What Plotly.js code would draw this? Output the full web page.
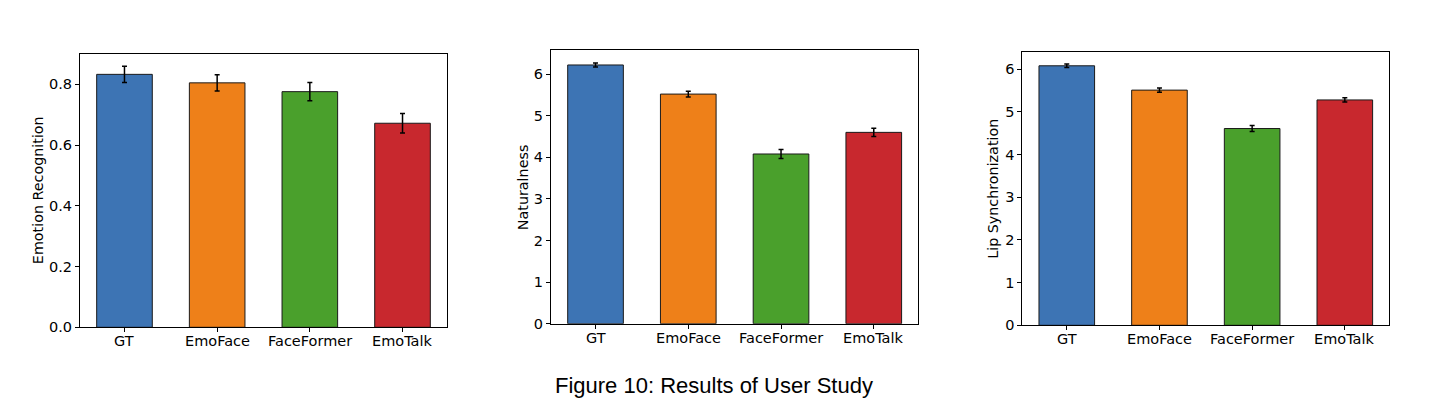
<!DOCTYPE html>
<html>
<head>
<meta charset="utf-8">
<script src="https://cdn.plot.ly/plotly-3.0.1.min.js"></script>
<style>html,body{margin:0;padding:0;background:#fff;}#chart{width:1432px;height:399px;}</style>
</head>
<body>
<div id="chart"></div>
<script>
const categories = ["GT", "EmoFace", "FaceFormer", "EmoTalk"];
const barColors = ["#3d74b4", "#ee8019", "#4aa02c", "#c8282e"];

const emotionRecognition = [0.833, 0.805, 0.776, 0.672];
const emotionRecognitionErr = [0.027, 0.027, 0.030, 0.032];

const naturalness = [6.22, 5.52, 4.08, 4.60];
const naturalnessErr = [0.05, 0.07, 0.11, 0.10];

const lipSync = [6.08, 5.51, 4.61, 5.28];
const lipSyncErr = [0.04, 0.05, 0.07, 0.05];

const panelTitles = ["Emotion Recognition", "Naturalness", "Lip Synchronization"];
const yRanges = [[0, 0.9], [0, 6.58], [0, 6.41]];
const yTicks = [[0, 0.2, 0.4, 0.6, 0.8], [0, 1, 2, 3, 4, 5, 6], [0, 1, 2, 3, 4, 5, 6]];
const yTickText = [["0.0", "0.2", "0.4", "0.6", "0.8"], ["0","1","2","3","4","5","6"], ["0","1","2","3","4","5","6"]];
const caption = "Figure 10: Results of User Study";

const W = 1432, H = 399;
// plot boxes in pixels: [left, right, top, bottom]
const boxes = [[80, 447, 54, 327.3], [551, 918.3, 50, 323.7], [1022.3, 1389.3, 51.7, 325.3]];
const titleX = [37.5, 523.3, 993.3];

const series = [
  [emotionRecognition, emotionRecognitionErr],
  [naturalness, naturalnessErr],
  [lipSync, lipSyncErr]
];

const FS = 14.5;
const font = {family: "DejaVu Sans", size: FS, color: "#000"};
const data = [];
const layout = {
  width: W, height: H,
  margin: {l: 0, r: 0, t: 0, b: 0},
  paper_bgcolor: "#fff", plot_bgcolor: "#fff",
  showlegend: false,
  font: font,
  annotations: []
};

series.forEach((s, i) => {
  const n = i + 1;
  const xa = "x" + (n === 1 ? "" : n);
  const ya = "y" + (n === 1 ? "" : n);
  data.push({
    type: "bar",
    x: [0, 1, 2, 3],
    y: s[0],
    width: 0.6,
    xaxis: xa, yaxis: ya,
    marker: {color: barColors, line: {color: "#1a1a1a", width: 1}},
    error_y: {type: "data", array: s[1], visible: true, color: "#000", thickness: 1.5, width: 2.5},
    hoverinfo: "none"
  });
  const b = boxes[i];
  const axCommon = {
    showline: true, mirror: true, linecolor: "#000", linewidth: 1,
    ticks: "outside", ticklen: 4, tickwidth: 1, tickcolor: "#000",
    showgrid: false, zeroline: false, tickfont: font, fixedrange: true
  };
  layout["xaxis" + (n === 1 ? "" : n)] = Object.assign({}, axCommon, {
    domain: [b[0] / W, b[1] / W],
    range: [-0.48, 3.48],
    tickmode: "array", tickvals: [0, 1, 2, 3], ticktext: categories,
    showticklabels: false,
    anchor: ya
  });
  layout["yaxis" + (n === 1 ? "" : n)] = Object.assign({}, axCommon, {
    domain: [1 - b[3] / H, 1 - b[2] / H],
    range: yRanges[i],
    tickmode: "array", tickvals: yTicks[i], ticktext: yTickText[i],
    anchor: xa
  });
  categories.forEach((c, k) => {
    layout.annotations.push({
      text: c, xref: xa, yref: "paper", x: k, y: 1 - (b[3] + 14) / H,
      xanchor: "center", yanchor: "middle", showarrow: false,
      font: font
    });
  });
  layout.annotations.push({
    text: panelTitles[i], textangle: -90,
    xref: "paper", yref: "paper",
    x: titleX[i] / W, y: 1 - ((b[2] + b[3]) / 2) / H,
    xanchor: "center", yanchor: "middle", showarrow: false,
    font: {family: "DejaVu Sans", size: 14.3, color: "#000"}
  });
});

layout.annotations.push({
  text: caption, xref: "paper", yref: "paper",
  x: 714 / W, y: 1 - 385 / H, xanchor: "center", yanchor: "middle",
  showarrow: false,
  font: {family: "Liberation Sans", size: 22, color: "#000"}
});

Plotly.newPlot("chart", data, layout, {displayModeBar: false, staticPlot: true});
</script>
</body>
</html>
